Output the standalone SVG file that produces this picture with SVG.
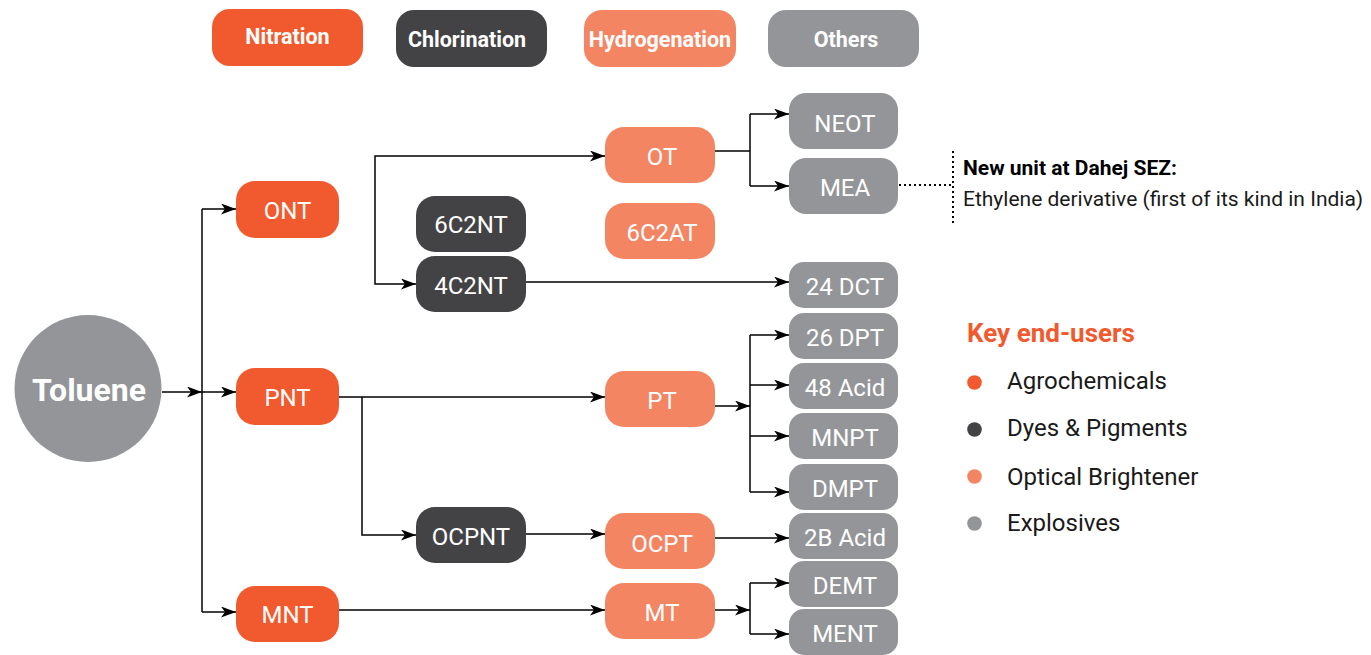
<svg xmlns="http://www.w3.org/2000/svg" width="1371" height="655" viewBox="0 0 1371 655">
<style>
.n{fill:#F15A2E}
.c{fill:#434345}
.h{fill:#F48563}
.o{fill:#939598}
.t{font-family:Roboto,"Liberation Sans",sans-serif;font-size:24px;fill:#fff;text-anchor:middle}
.hd{font-family:Roboto,"Liberation Sans",sans-serif;font-size:21.5px;font-weight:bold;fill:#fff;text-anchor:middle}
.ln{fill:none;stroke:#000;stroke-width:1.5}
.ar{marker-end:url(#a)}
.dot{fill:none;stroke:#000;stroke-width:2;stroke-dasharray:2 3}
.lg{font-family:Roboto,"Liberation Sans",sans-serif;font-size:24px;fill:#1a1a1a}
</style>
<defs>
<marker id="a" markerUnits="userSpaceOnUse" markerWidth="16" markerHeight="12" refX="15" refY="5.5" orient="auto">
<path d="M0,0 L15,5.5 L0,11 L4,5.5 z" fill="#000"/>
</marker>
</defs>

<g id="legend-header">
<g id="h-nitration"><rect class="n" x="212" y="9" width="151" height="57" rx="18"/><text class="hd" x="287.5" y="44">Nitration</text></g>
<g id="h-chlorination"><rect class="c" x="396" y="10" width="151" height="57" rx="18"/><text class="hd" x="467" y="47">Chlorination</text></g>
<g id="h-hydrogenation"><rect class="h" x="584" y="10" width="152" height="57" rx="18"/><text class="hd" x="660" y="47">Hydrogenation</text></g>
<g id="h-others"><rect class="o" x="768" y="10" width="151" height="57" rx="18"/><text class="hd" x="846" y="47">Others</text></g>
</g>

<g id="connectors">
<path class="ln ar" d="M162,392 H202"/>
<path class="ln" d="M202,209 V612"/>
<path class="ln ar" d="M202,209 H236"/>
<path class="ln ar" d="M202,392 H236"/>
<path class="ln ar" d="M202,612 H236"/>
<path class="ln ar" d="M375,220 V156 H605"/>
<path class="ln ar" d="M375,220 V284 H416"/>
<path class="ln" d="M715,151 H750"/>
<path class="ln" d="M750,114 V186"/>
<path class="ln ar" d="M750,114 H789"/>
<path class="ln ar" d="M750,186 H789"/>
<path class="ln ar" d="M526,282 H789"/>
<path class="ln ar" d="M339,397 H605"/>
<path class="ln ar" d="M362,397 V535 H416"/>
<path class="ln ar" d="M526,534 H605"/>
<path class="ln ar" d="M715,538 H789"/>
<path class="ln ar" d="M715,406 H750"/>
<path class="ln" d="M750,335 V492"/>
<path class="ln ar" d="M750,335 H789"/>
<path class="ln ar" d="M750,385 H789"/>
<path class="ln ar" d="M750,436 H789"/>
<path class="ln ar" d="M750,492 H789"/>
<path class="ln ar" d="M339,610 H605"/>
<path class="ln ar" d="M715,610 H750"/>
<path class="ln" d="M750,583 V634"/>
<path class="ln ar" d="M750,583 H789"/>
<path class="ln ar" d="M750,634 H789"/>
<path class="dot" d="M899,185 H953"/>
<path class="dot" d="M953,151 V226"/>
</g>

<g id="toluene"><circle cx="88" cy="388.5" r="73.5" fill="#939598"/><text x="89" y="401" font-family="Roboto,'Liberation Sans',sans-serif" font-size="32" font-weight="bold" fill="#fff" text-anchor="middle">Toluene</text></g>

<g id="ONT"><rect class="n" x="236" y="181" width="103" height="57" rx="19"/><text class="t" x="287.5" y="218.5">ONT</text></g>
<g id="PNT"><rect class="n" x="236" y="368" width="103" height="57" rx="19"/><text class="t" x="287.5" y="405.5">PNT</text></g>
<g id="MNT"><rect class="n" x="236" y="586" width="103" height="56" rx="19"/><text class="t" x="287.5" y="622.5">MNT</text></g>

<g id="6C2NT"><rect class="c" x="416" y="196" width="110" height="56" rx="19"/><text class="t" x="471" y="233">6C2NT</text></g>
<g id="4C2NT"><rect class="c" x="416" y="256" width="110" height="56" rx="19"/><text class="t" x="471" y="293.5">4C2NT</text></g>
<g id="OCPNT"><rect class="c" x="416" y="507" width="110" height="56" rx="19"/><text class="t" x="471" y="544.5">OCPNT</text></g>

<g id="OT"><rect class="h" x="605" y="127" width="110" height="56" rx="19"/><text class="t" x="662" y="164.5">OT</text></g>
<g id="6C2AT"><rect class="h" x="605" y="203" width="110" height="56" rx="19"/><text class="t" x="662" y="240.5">6C2AT</text></g>
<g id="PT"><rect class="h" x="605" y="371" width="110" height="56" rx="19"/><text class="t" x="662" y="409">PT</text></g>
<g id="OCPT"><rect class="h" x="605" y="513" width="110" height="56" rx="19"/><text class="t" x="662" y="551.5">OCPT</text></g>
<g id="MT"><rect class="h" x="605" y="583" width="110" height="56" rx="19"/><text class="t" x="662" y="620.5">MT</text></g>

<g id="NEOT"><rect class="o" x="789" y="93" width="109" height="56" rx="17"/><text class="t" x="845" y="131.5">NEOT</text></g>
<g id="MEA"><rect class="o" x="789" y="158" width="109" height="56" rx="17"/><text class="t" x="845" y="196">MEA</text></g>
<g id="24DCT"><rect class="o" x="789" y="262" width="109" height="46" rx="15"/><text class="t" x="845" y="294.5">24 DCT</text></g>
<g id="26DPT"><rect class="o" x="789" y="313" width="109" height="46" rx="15"/><text class="t" x="845" y="345.5">26 DPT</text></g>
<g id="48Acid"><rect class="o" x="789" y="363" width="109" height="46" rx="15"/><text class="t" x="845" y="395.5">48 Acid</text></g>
<g id="MNPT"><rect class="o" x="789" y="413" width="109" height="46" rx="15"/><text class="t" x="845" y="445.5">MNPT</text></g>
<g id="DMPT"><rect class="o" x="789" y="464" width="109" height="46" rx="15"/><text class="t" x="845" y="496.5">DMPT</text></g>
<g id="2BAcid"><rect class="o" x="789" y="513" width="109" height="46" rx="15"/><text class="t" x="845" y="545.5">2B Acid</text></g>
<g id="DEMT"><rect class="o" x="789" y="561" width="109" height="46" rx="15"/><text class="t" x="845" y="593.5">DEMT</text></g>
<g id="MENT"><rect class="o" x="789" y="609" width="109" height="46" rx="15"/><text class="t" x="845" y="641.5">MENT</text></g>

<g id="annotation">
<text x="963" y="175" font-family="Roboto,'Liberation Sans',sans-serif" font-size="21" font-weight="bold" fill="#000">New unit at Dahej SEZ:</text>
<text x="963" y="206" font-family="Roboto,'Liberation Sans',sans-serif" font-size="21" fill="#1a1a1a">Ethylene derivative (first of its kind in India)</text>
</g>

<g id="key">
<text x="967" y="342" font-family="Roboto,'Liberation Sans',sans-serif" font-size="26" font-weight="bold" fill="#F15A2E">Key end-users</text>
<circle cx="974.5" cy="382.5" r="7.3" fill="#F15A2E"/><text class="lg" x="1007" y="389">Agrochemicals</text>
<circle cx="974.5" cy="429.5" r="7.3" fill="#434345"/><text class="lg" x="1007" y="436">Dyes &amp; Pigments</text>
<circle cx="974.5" cy="476.5" r="7.3" fill="#F48563"/><text class="lg" x="1007" y="485">Optical Brightener</text>
<circle cx="974.5" cy="523.5" r="7.3" fill="#939598"/><text class="lg" x="1007" y="531">Explosives</text>
</g>
</svg>
